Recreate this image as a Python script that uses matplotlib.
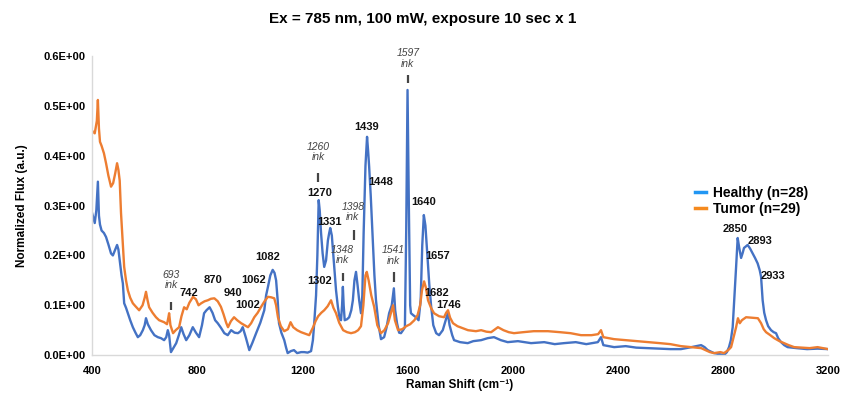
import matplotlib
matplotlib.use("Agg")
import matplotlib.pyplot as plt
from matplotlib.lines import Line2D

plt.rcParams["font.family"] = ["Liberation Sans", "DejaVu Sans"]

# Healthy (n=28) mean spectrum
healthy_x = [400, 405, 410, 416, 422, 426, 430, 436, 445, 453, 462, 472, 479, 488, 495, 500, 505, 512, 517, 522,
             529, 536, 545, 555, 565, 574, 583, 593, 600, 605, 612, 624, 637, 650, 662, 674, 682, 688, 693, 700,
             710, 720, 730, 739, 748, 758, 770, 783, 795, 807, 818, 826, 835, 847, 858, 868, 878, 890, 903, 916,
             929, 942, 955, 965, 973, 985, 998, 1010, 1024, 1040, 1055, 1062, 1069, 1078, 1087, 1094, 1100, 1106, 1111, 1120,
             1131, 1138, 1144, 1156, 1168, 1180, 1195, 1207, 1220, 1233, 1240, 1245, 1252, 1257, 1262, 1266, 1271, 1277, 1283, 1290,
             1297, 1302, 1306, 1312, 1321, 1328, 1335, 1342, 1347, 1351, 1354, 1357, 1361, 1370, 1378, 1386, 1392, 1398, 1404, 1410,
             1416, 1423, 1428, 1433, 1440, 1446, 1450, 1454, 1460, 1468, 1474, 1480, 1490, 1499, 1511, 1520, 1530, 1540, 1548, 1553,
             1560, 1568, 1575, 1583, 1590, 1595, 1600, 1605, 1610, 1613, 1622, 1632, 1642, 1650, 1656, 1662, 1668, 1676, 1683, 1690,
             1698, 1709, 1720, 1734, 1745, 1753, 1760, 1770, 1777, 1800, 1829, 1850, 1880, 1905, 1929, 1955, 1981, 2020, 2070, 2120,
             2160, 2195, 2240, 2280, 2324, 2336, 2345, 2386, 2430, 2470, 2514, 2560, 2600, 2640, 2680, 2717, 2730, 2742, 2766, 2785,
             2804, 2815, 2823, 2830, 2837, 2844, 2850, 2856, 2862, 2869, 2875, 2880, 2887, 2894, 2903, 2913, 2922, 2932, 2940, 2945,
             2951, 2957, 2964, 2972, 2983, 2993, 3002, 3010, 3021, 3033, 3046, 3080, 3120, 3160, 3200]
healthy_y = [0.285, 0.275, 0.265, 0.290, 0.348, 0.280, 0.262, 0.250, 0.245, 0.237, 0.222, 0.204, 0.200, 0.212, 0.221, 0.212, 0.190, 0.160, 0.144, 0.104,
             0.095, 0.084, 0.070, 0.056, 0.045, 0.036, 0.040, 0.050, 0.060, 0.074, 0.062, 0.050, 0.040, 0.036, 0.034, 0.030, 0.036, 0.050, 0.040, 0.006,
             0.015, 0.024, 0.040, 0.056, 0.042, 0.030, 0.040, 0.056, 0.045, 0.036, 0.060, 0.084, 0.090, 0.096, 0.085, 0.070, 0.064, 0.055, 0.044, 0.040,
             0.050, 0.045, 0.044, 0.048, 0.056, 0.035, 0.010, 0.025, 0.044, 0.065, 0.090, 0.120, 0.137, 0.160, 0.171, 0.165, 0.150, 0.110, 0.064, 0.045,
             0.030, 0.015, 0.004, 0.008, 0.010, 0.004, 0.006, 0.006, 0.005, 0.008, 0.030, 0.064, 0.120, 0.200, 0.311, 0.290, 0.245, 0.204, 0.177, 0.190,
             0.230, 0.245, 0.255, 0.240, 0.177, 0.130, 0.097, 0.072, 0.070, 0.100, 0.137, 0.100, 0.070, 0.072, 0.076, 0.090, 0.110, 0.150, 0.167, 0.140,
             0.110, 0.084, 0.120, 0.245, 0.380, 0.438, 0.410, 0.378, 0.320, 0.231, 0.160, 0.110, 0.060, 0.032, 0.036, 0.055, 0.084, 0.100, 0.134, 0.090,
             0.064, 0.045, 0.044, 0.050, 0.056, 0.250, 0.532, 0.300, 0.100, 0.084, 0.080, 0.076, 0.070, 0.110, 0.220, 0.281, 0.260, 0.197, 0.140, 0.097,
             0.060, 0.044, 0.040, 0.050, 0.070, 0.084, 0.060, 0.040, 0.030, 0.026, 0.024, 0.028, 0.030, 0.034, 0.036, 0.030, 0.026, 0.028, 0.024, 0.026,
             0.022, 0.024, 0.026, 0.022, 0.026, 0.036, 0.020, 0.016, 0.018, 0.015, 0.014, 0.013, 0.012, 0.012, 0.016, 0.020, 0.016, 0.010, 0.004, 0.002,
             0.000, 0.006, 0.016, 0.030, 0.056, 0.120, 0.177, 0.235, 0.215, 0.195, 0.205, 0.215, 0.218, 0.221, 0.214, 0.204, 0.195, 0.184, 0.170, 0.157,
             0.110, 0.085, 0.070, 0.058, 0.050, 0.046, 0.044, 0.034, 0.026, 0.020, 0.016, 0.014, 0.012, 0.013, 0.012]

# Tumor (n=29) mean spectrum
tumor_x = [400, 410, 418, 422, 426, 430, 436, 445, 453, 462, 472, 480, 488, 495, 500, 505, 510, 516, 522, 529,
           536, 545, 555, 565, 579, 592, 600, 605, 611, 617, 630, 643, 655, 665, 674, 685, 690, 693, 698, 708,
           718, 731, 740, 750, 760, 770, 784, 795, 805, 815, 828, 840, 852, 865, 878, 890, 900, 910, 917, 928,
           940, 952, 967, 980, 993, 1005, 1017, 1030, 1043, 1056, 1069, 1081, 1093, 1100, 1107, 1118, 1131, 1145, 1155, 1165,
           1180, 1195, 1210, 1226, 1240, 1250, 1260, 1272, 1283, 1296, 1309, 1318, 1328, 1340, 1355, 1370, 1385, 1400, 1412, 1423,
           1432, 1440, 1445, 1452, 1462, 1473, 1485, 1499, 1512, 1526, 1537, 1545, 1552, 1564, 1580, 1595, 1610, 1626, 1638, 1648,
           1655, 1663, 1670, 1678, 1690, 1701, 1720, 1739, 1747, 1754, 1762, 1773, 1790, 1810, 1830, 1860, 1880, 1900, 1918, 1944,
           1965, 1985, 2005, 2040, 2080, 2134, 2180, 2220, 2260, 2300, 2325, 2336, 2345, 2386, 2430, 2470, 2515, 2560, 2600, 2640,
           2680, 2717, 2750, 2766, 2790, 2804, 2820, 2831, 2840, 2850, 2857, 2864, 2872, 2888, 2910, 2933, 2945, 2955, 2964, 2980,
           2995, 3015, 3033, 3050, 3071, 3100, 3130, 3160, 3200]
tumor_y = [0.450, 0.445, 0.470, 0.512, 0.455, 0.428, 0.420, 0.405, 0.385, 0.360, 0.338, 0.345, 0.365, 0.385, 0.372, 0.350, 0.285, 0.230, 0.177, 0.150,
           0.130, 0.115, 0.104, 0.098, 0.090, 0.100, 0.115, 0.127, 0.110, 0.096, 0.085, 0.076, 0.070, 0.068, 0.066, 0.062, 0.075, 0.084, 0.060, 0.044,
           0.050, 0.056, 0.078, 0.096, 0.092, 0.105, 0.117, 0.112, 0.100, 0.104, 0.108, 0.110, 0.113, 0.114, 0.108, 0.097, 0.082, 0.065, 0.056, 0.068,
           0.076, 0.070, 0.064, 0.060, 0.056, 0.064, 0.076, 0.085, 0.097, 0.108, 0.117, 0.116, 0.114, 0.100, 0.076, 0.058, 0.048, 0.052, 0.066, 0.056,
           0.050, 0.046, 0.043, 0.040, 0.055, 0.068, 0.078, 0.085, 0.090, 0.098, 0.110, 0.095, 0.084, 0.065, 0.050, 0.046, 0.044, 0.046, 0.050, 0.058,
           0.100, 0.160, 0.167, 0.150, 0.120, 0.097, 0.060, 0.044, 0.050, 0.064, 0.085, 0.100, 0.070, 0.050, 0.052, 0.058, 0.062, 0.070, 0.080, 0.100,
           0.130, 0.148, 0.135, 0.110, 0.094, 0.084, 0.078, 0.076, 0.085, 0.090, 0.075, 0.064, 0.058, 0.054, 0.050, 0.048, 0.050, 0.047, 0.046, 0.056,
           0.050, 0.046, 0.044, 0.046, 0.048, 0.048, 0.046, 0.044, 0.040, 0.040, 0.042, 0.050, 0.036, 0.032, 0.030, 0.028, 0.026, 0.024, 0.022, 0.018,
           0.016, 0.014, 0.006, 0.004, 0.006, 0.004, 0.010, 0.016, 0.035, 0.056, 0.074, 0.064, 0.070, 0.076, 0.075, 0.074, 0.064, 0.052, 0.046, 0.040,
           0.034, 0.028, 0.024, 0.020, 0.016, 0.015, 0.014, 0.016, 0.012]

# bold peak labels: text, x, y
peak_labels = ["742", "870", "940", "1002", "1062", "1082", "1270", "1302", "1331", "1439",
               "1448", "1640", "1657", "1682", "1746", "2850", "2893", "2933"]
peak_lx = [769, 860, 936, 993, 1016, 1069, 1264, 1267, 1305, 1445,
           1496, 1663, 1715, 1712, 1758, 2846, 2941, 2991]
peak_ly = [0.124, 0.151, 0.124, 0.100, 0.151, 0.197, 0.325, 0.149, 0.267, 0.458,
           0.347, 0.307, 0.199, 0.125, 0.100, 0.253, 0.229, 0.159]

# ink bands: label, text x/y, tick x, tick bottom/top
ink_labels = ["693", "1260", "1348", "1398", "1541", "1597"]
ink_tx = [700, 1262, 1353, 1392, 1545, 1601]
ink_ty = [0.151, 0.408, 0.201, 0.287, 0.200, 0.595]
ink_tick_x = [700, 1259, 1355, 1397, 1548, 1601]
ink_tick_lo = [0.090, 0.347, 0.149, 0.231, 0.147, 0.546]
ink_tick_hi = [0.107, 0.365, 0.165, 0.251, 0.167, 0.562]

xticks = [400, 800, 1200, 1600, 2000, 2400, 2800, 3200]
yticks = [0.0, 0.1, 0.2, 0.3, 0.4, 0.5, 0.6]

BLUE = "#4472C4"
ORANGE = "#ED7D31"

fig = plt.figure(figsize=(8.45, 3.95), dpi=100)
ax = fig.add_axes([0.109, 0.101, 0.871, 0.757])

ax.plot(healthy_x, healthy_y, color=BLUE, linewidth=1.7)
ax.plot(tumor_x, tumor_y, color=ORANGE, linewidth=1.7)

for t, x, y in zip(peak_labels, peak_lx, peak_ly):
    ax.text(x, y, t, ha="center", va="center", fontsize=8, fontweight="bold", color="#111111")

for t, x, y in zip(ink_labels, ink_tx, ink_ty):
    ax.text(x, y, f"{t}\nink", ha="center", va="center", fontsize=7.5, style="italic",
            color="#444444", linespacing=1.05)
ax.vlines(ink_tick_x, ink_tick_lo, ink_tick_hi, colors="#444444", linewidth=1.6)

ax.set_xlim(400, 3200)
ax.set_ylim(0, 0.6)
ax.set_xticks(xticks)
ax.set_yticks(yticks)
ax.set_xticklabels([str(v) for v in xticks], fontsize=8, fontweight="bold")
ax.set_yticklabels([f"{v:.1f}E+00" for v in yticks], fontsize=8, fontweight="bold")
ax.tick_params(length=0)
ax.tick_params(axis="x", pad=8)
ax.tick_params(axis="y", pad=5)

for side in ["top", "right"]:
    ax.spines[side].set_visible(False)
for side in ["left", "bottom"]:
    ax.spines[side].set_color("#D9D9D9")
    ax.spines[side].set_linewidth(1.0)

ax.set_xlabel("Raman Shift (cm\u207b\u00b9)", fontsize=8.5, fontweight="bold", labelpad=2)
ax.set_ylabel("Normalized Flux (a.u.)", fontsize=8.5, fontweight="bold", labelpad=11)

fig.suptitle("Ex = 785 nm, 100 mW, exposure 10 sec x 1", fontsize=11, fontweight="bold", x=0.5, y=0.97)

handles = [Line2D([], [], color="#2196F3", linewidth=2.5),
           Line2D([], [], color="#F58A1F", linewidth=2.5)]
leg = ax.legend(handles, ["Healthy (n=28)", "Tumor (n=29)"], loc="upper left",
                bbox_to_anchor=(0.81, 0.59), frameon=False, handlelength=0.8,
                handletextpad=0.5, labelspacing=0.15, borderpad=0,
                prop={"weight": "bold", "size": 10})

fig.savefig("out.png", dpi=100)
